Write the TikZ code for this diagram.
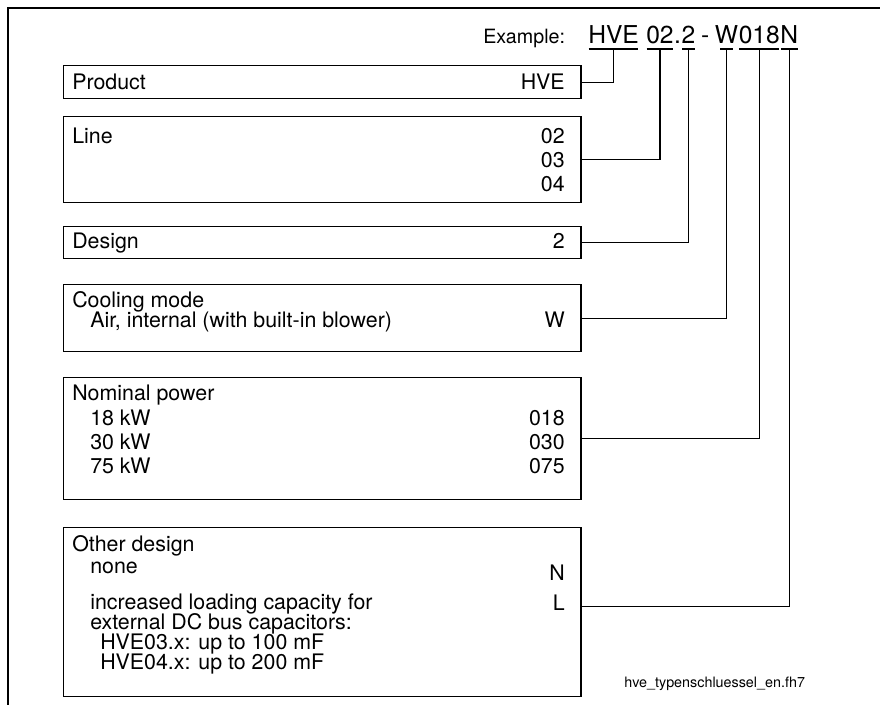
\documentclass[tikz,border=0pt]{standalone}
\usepackage{fontspec}
\setmainfont{TeX Gyre Heros}
\usetikzlibrary{positioning}

\tikzset{
  keybox/.style={draw, line width=1pt, inner sep=0pt, minimum width=12.925cm, anchor=north west},
  txt/.style={inner sep=0pt, anchor=base west, font=\fontsize{15.2}{17}\selectfont},
  val/.style={txt, anchor=base east},
  code/.style={inner sep=0pt, font=\fontsize{17.5}{20}\selectfont, text height=0.32cm, text depth=0.15cm},
  uline/.style={line width=1.4pt},
  link/.style={line width=1pt},
  frame/.style={line width=1.4pt},
}

\begin{document}
\begin{tikzpicture}[x=0.025cm, y=-0.025cm]
        \def\valx{565}
        \def\txtx{72}
        \def\subx{90}

        \useasboundingbox (0,0) rectangle (880,705);
        \draw[frame] (880,8) -- (8,8) -- (8,705);

        % type code
        \node[txt, font=\fontsize{14}{16}\selectfont] (example) at (483,43) {Example:};
        \node[code, anchor=base west] (hve) at (588,43) {HVE};
        \node[code, right=0.17cm of hve] (ln) {02};
        \node[code, right=0pt of ln] (dot) {.};
        \node[code, right=0pt of dot] (des) {2};
        \node[code, right=0.13cm of des] (dash) {-};
        \node[code, right=0.13cm of dash] (cool) {W};
        \node[code, right=0pt of cool] (pow) {018};
        \node[code, right=0pt of pow] (oth) {N};
        \foreach \n in {hve,ln,des,pow,oth}
            \draw[uline] ([xshift=0.5pt]\n.south west) -- ([xshift=-0.5pt]\n.south east);
        \draw[uline] ([xshift=4pt]cool.south west) -- ([xshift=-4pt]cool.south east);

        % boxes
        \node[keybox, minimum height=0.825cm] (product) at (63,65) {};
        \node[keybox, minimum height=2.15cm] (line) at (63,116) {};
        \node[keybox, minimum height=0.8cm] (design) at (63,226) {};
        \node[keybox, minimum height=1.675cm] (cooling) at (63,284) {};
        \node[keybox, minimum height=3.05cm] (power) at (63,377) {};
        \node[keybox, minimum height=4.225cm] (other) at (63,527) {};

        % texts
        \node[txt] (producttxt) at (\txtx,89) {Product};
        \node[val] (productval) at (\valx,89) {HVE};

        \node[txt] (linetxt) at (\txtx,143) {Line};
        \foreach \v [count=\i] in {02,03,04}
            \node[val] (lineval\i) at (\valx,{143+24*(\i-1)}) {\v};

        \node[txt] (designtxt) at (\txtx,248) {Design};
        \node[val] (designval) at (\valx,248) {2};

        \node[txt] (coolingtxt) at (\txtx,307) {Cooling mode};
        \node[txt] (airtxt) at (\subx,327) {Air, internal (with built-in blower)};
        \node[val] (coolingval) at (\valx,327) {W};

        \node[txt] (powertxt) at (\txtx,400) {Nominal power};
        \foreach \p/\v [count=\i] in {18 kW/018, 30 kW/030, 75 kW/075} {
            \node[txt] (kw\i) at (\subx,{425+24*(\i-1)}) {\p};
            \node[val] (powerval\i) at (\valx,{425+24*(\i-1)}) {\v};
        }

        \node[txt] (othertxt) at (\txtx,551) {Other design};
        \node[txt] (nonetxt) at (\subx,573) {none};
        \node[val] (nval) at (\valx,580) {N};
        \node[txt] (inctxt) at (\subx,609) {increased loading capacity for};
        \node[val] (lval) at (\valx,610) {L};
        \node[txt] (exttxt) at (\subx,629) {external DC bus capacitors:};
        \node[txt] (hvethree) at (100,649) {HVE03.x: up to 100 mF};
        \node[txt] (hvefour) at (100,669) {HVE04.x: up to 200 mF};

        \node[txt, font=\fontsize{10.2}{12}\selectfont] (filename) at (624,687) {hve\_typenschluessel\_en.fh7};

        % connectors
        \draw[link] (product.east) -| (hve.south);
        \draw[link] (line.east) -| (ln.south);
        \draw[link] (design.east) -| (des.south);
        \draw[link] (cooling.east) -| (cool.south);
        \draw[link] (power.east) -| (pow.south);
        \draw[link] (other.east |- lval.mid) -| (oth.south);
    \end{tikzpicture}
\end{document}
